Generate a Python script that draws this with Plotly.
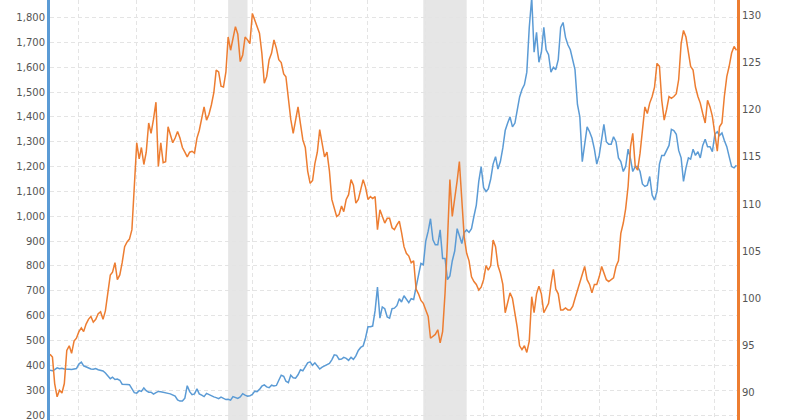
import pandas as pd
import plotly.graph_objects as go

# Monthly values, Jan 1995 - Oct 2018
gold_price = [
    380, 378, 383, 390, 386, 388, 385, 383, 384, 383, 386, 387,
    405, 413, 398, 393, 391, 385, 384, 387, 382, 380, 377, 369,
    356, 346, 352, 343, 345, 340, 324, 325, 323, 322, 305, 290,
    288, 298, 295, 309, 298, 292, 292, 284, 290, 295, 294, 291,
    287, 287, 285, 282, 276, 261, 256, 256, 268, 318, 294, 282,
    285, 305, 285, 280, 274, 287, 282, 275, 273, 270, 266, 272,
    266, 262, 263, 260, 274, 270, 267, 273, 286, 280, 276, 277,
    283, 296, 294, 303, 316, 321, 313, 310, 320, 317, 319, 340,
    360, 356, 336, 330, 360, 350, 348, 362, 382, 378, 392, 410,
    414, 400, 410, 395, 385, 393, 398, 403, 408, 422, 442, 440,
    424, 425, 432, 428, 420, 432, 424, 438, 460, 472, 478, 510,
    555, 555, 558, 620, 715, 590, 635, 628, 595, 590, 628, 630,
    640, 668, 655, 680, 665, 652, 668, 665, 715, 760, 810, 805,
    900, 940, 990, 905, 885, 885, 945, 830, 830, 745, 760, 820,
    860, 950, 925, 890, 935, 945, 935, 950, 1000, 1045, 1140, 1200,
    1115, 1100, 1110, 1150, 1210, 1240, 1190, 1220, 1275, 1345, 1375, 1400,
    1360, 1375, 1425, 1480, 1510, 1530, 1580, 1760, 1880, 1660, 1740, 1620,
    1660, 1760, 1670, 1650, 1580, 1600, 1590, 1630, 1760, 1780, 1720, 1690,
    1670, 1620, 1590, 1450, 1400, 1220, 1280, 1360, 1340, 1315, 1270, 1210,
    1245, 1310, 1370, 1300, 1290, 1290, 1320, 1300, 1235, 1220, 1180, 1200,
    1270, 1230, 1180, 1200, 1200, 1180, 1130, 1120, 1125, 1160, 1085, 1065,
    1100, 1210, 1245, 1245, 1265, 1285, 1350, 1345, 1330, 1265, 1235, 1140,
    1195, 1235, 1230, 1270, 1245, 1260, 1235, 1285, 1310, 1280, 1280, 1260,
    1330, 1340, 1325, 1335, 1305, 1280, 1240, 1200, 1195, 1205,
]

dollar_index = [
    94.1, 93.8, 91.0, 89.6, 90.3, 90.0, 91.0, 94.5, 95.0, 94.2, 95.5, 95.8,
    96.5, 96.9, 96.5, 97.3, 97.8, 98.1, 97.5, 97.8, 98.4, 98.6, 97.8, 98.7,
    100.6, 102.5, 102.8, 103.8, 102.0, 102.5, 103.8, 105.5, 106.0, 106.3, 107.3, 112.5,
    116.5, 114.8, 116.0, 114.2, 115.5, 118.6, 117.5, 119.0, 120.8, 114.0, 116.5, 114.4,
    114.5, 118.2, 117.5, 116.5, 117.0, 117.7, 117.0, 116.0, 115.5, 115.0, 115.5, 115.6,
    115.4, 117.0, 117.8, 119.0, 120.3, 118.9, 119.5, 120.5, 121.8, 124.2, 124.0, 122.5,
    122.4, 124.0, 127.7, 126.3, 127.5, 128.8, 128.0, 125.1, 125.8, 127.7, 127.4, 127.0,
    130.2, 129.5, 129.0, 128.1, 126.0, 122.8, 123.5, 125.3, 126.0, 127.4, 126.5, 125.3,
    125.0, 123.8, 123.5, 121.0, 119.0, 117.5, 119.0, 120.3, 118.5, 116.8, 116.0, 113.5,
    112.2, 112.5, 114.3, 115.5, 117.9, 116.5, 115.0, 115.5, 113.5, 110.5, 109.5, 108.7,
    108.9, 109.8, 109.2, 110.5, 111.0, 112.6, 112.0, 110.1, 110.5, 111.5, 112.6, 111.8,
    110.5, 110.8, 110.6, 110.8, 107.3, 109.4, 108.8, 108.0, 108.5, 108.5, 107.5, 107.3,
    107.8, 108.2, 107.0, 105.5, 104.8, 104.5, 103.8, 104.0, 101.0, 100.5, 99.8, 99.5,
    98.8, 98.1, 95.8, 96.0, 96.2, 96.7, 95.3, 96.5, 100.6, 106.0, 112.6, 108.7,
    110.5, 112.5, 114.5, 109.8, 106.5, 104.8, 104.0, 102.3, 101.8, 101.5, 100.9, 101.2,
    102.0, 103.5, 103.0, 103.5, 106.2, 105.5, 103.5, 102.7, 101.5, 98.5, 99.5, 100.6,
    100.0, 98.5, 97.0, 95.0, 94.6, 95.0, 94.3, 95.5, 100.2, 98.5, 100.5, 101.3,
    100.5, 98.5, 99.0, 99.5, 101.5, 103.1, 101.0, 100.5, 98.8, 98.8, 99.0, 98.8,
    98.8, 99.2, 100.0, 100.9, 101.5, 102.5, 103.4, 102.0, 101.5, 100.6, 101.5, 101.5,
    102.3, 103.4, 102.8, 102.0, 101.8, 102.0, 102.2, 103.4, 104.0, 106.9, 108.0, 109.5,
    111.9, 116.1, 117.5, 114.0, 113.6, 115.4, 117.5, 120.3, 119.6, 120.7, 121.4, 122.4,
    124.9, 124.6, 121.0, 118.9, 120.0, 121.4, 121.2, 121.4, 121.7, 123.2, 127.0, 128.4,
    127.7, 126.0, 124.6, 124.2, 122.4, 121.4, 120.7, 119.6, 118.6, 121.0, 120.3, 119.3,
    117.5, 115.6, 118.2, 118.6, 121.4, 123.5, 124.6, 126.0, 126.7, 126.3,
]

months = pd.date_range("1995-01-01", periods=len(gold_price), freq="MS")

recession_starts = ["2001-03-01", "2007-12-01"]
recession_ends = ["2001-11-01", "2009-06-01"]

left_ticks = list(range(200, 1900, 100))
right_ticks = list(range(90, 135, 5))

BLUE = "#5b9bd5"
ORANGE = "#ed7d31"
GRID = "#e4e4e4"
FONT = dict(family="DejaVu Sans", size=10, color="#555555")

fig = go.Figure()
fig.add_trace(go.Scatter(x=months, y=gold_price, mode="lines", yaxis="y",
                         line=dict(color=BLUE, width=1.5), name="Gold"))
fig.add_trace(go.Scatter(x=months, y=dollar_index, mode="lines", yaxis="y2",
                         line=dict(color=ORANGE, width=1.5), name="Dollar"))

for s, e in zip(recession_starts, recession_ends):
    fig.add_shape(type="rect", xref="x", yref="paper", x0=s, x1=e, y0=0, y1=1,
                  fillcolor="#e6e6e6", line=dict(width=0), layer="below")

fig.update_layout(
    width=800, height=420,
    margin=dict(l=50, r=63, t=0, b=0),
    paper_bgcolor="white", plot_bgcolor="white",
    showlegend=False,
    xaxis=dict(type="date", range=["1995-01-01", "2018-10-08"],
               showgrid=True, gridcolor=GRID, griddash="4px,3px", gridwidth=1,
               tick0="1996-01-01", dtick="M24", showticklabels=False,
               ticks="", zeroline=False, showline=False),
    yaxis=dict(range=[179.9, 1870.4], tickvals=left_ticks, tickformat=",",
               showgrid=True, gridcolor=GRID, griddash="4px,3px", gridwidth=1,
               showline=True, linecolor=BLUE, linewidth=3, ticks="",
               zeroline=False, tickfont=FONT, ticklabeloverflow="allow"),
    yaxis2=dict(range=[87.14, 131.62], tickvals=right_ticks, overlaying="y",
                side="right", showgrid=False, showline=True, linecolor=ORANGE,
                linewidth=3, ticks="", zeroline=False, tickfont=FONT,
                ticklabeloverflow="allow"),
)

fig.write_html("out.html")
